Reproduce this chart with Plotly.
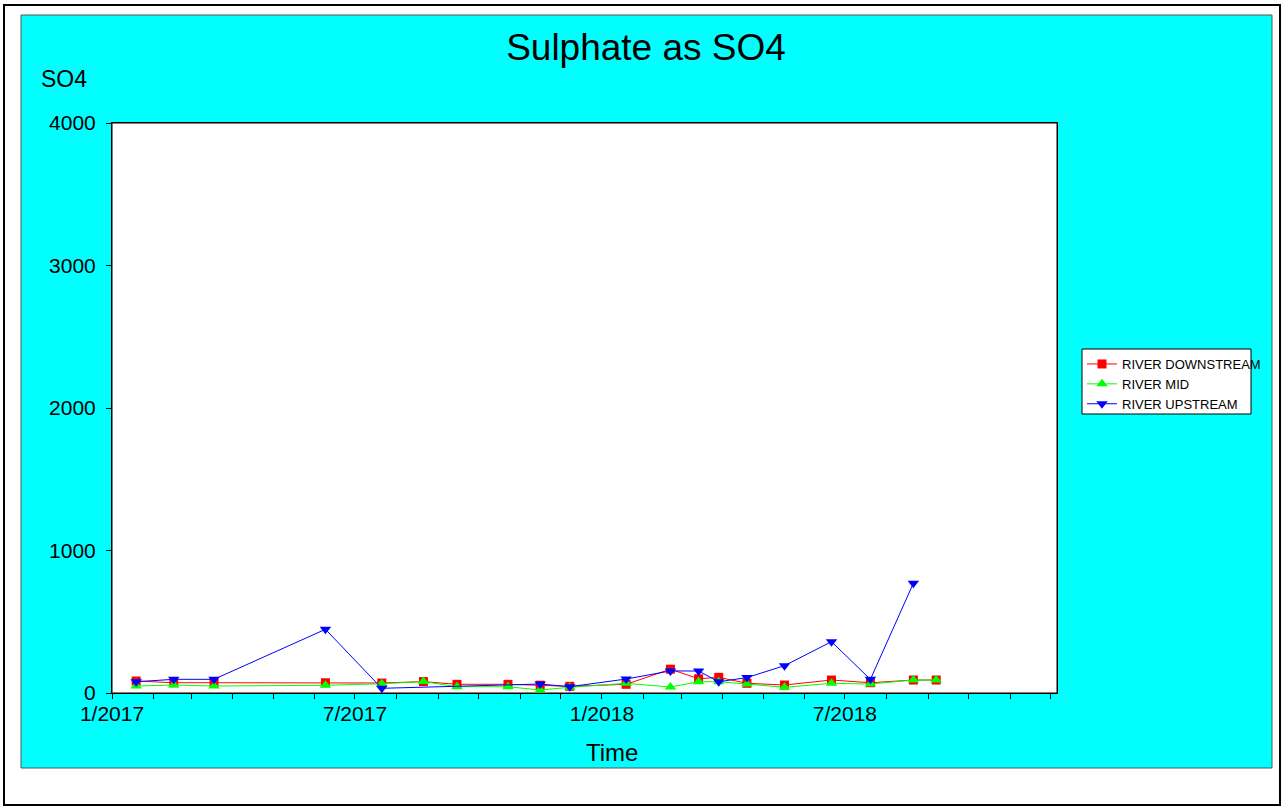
import plotly.graph_objects as go

dates_down = ["2017-01-19", "2017-02-16", "2017-03-18", "2017-06-09", "2017-07-21", "2017-08-21",
              "2017-09-15", "2017-10-23", "2017-11-16", "2017-12-08", "2018-01-19", "2018-02-21",
              "2018-03-14", "2018-03-29", "2018-04-19", "2018-05-17", "2018-06-21", "2018-07-20",
              "2018-08-21", "2018-09-07"]
downstream = [84, 72, 72, 72, 70, 80, 61, 61, 55, 47, 61, 167, 100, 110, 68, 56, 91, 72, 91, 91]

dates_mid = dates_down
mid = [49, 56, 49, 54, 65, 80, 44, 44, 21, 40, 68, 42, 79, 79, 63, 40, 68, 63, 91, 91]

dates_up = ["2017-01-19", "2017-02-16", "2017-03-18", "2017-06-09", "2017-07-21", "2017-11-16",
            "2017-12-08", "2018-01-19", "2018-02-21", "2018-03-14", "2018-03-29", "2018-04-19",
            "2018-05-17", "2018-06-21", "2018-07-20", "2018-08-21"]
upstream = [79, 96, 96, 447, 33, 63, 44, 98, 155, 154, 79, 108, 192, 360, 96, 770]

y_ticks = [0, 1000, 2000, 3000, 4000]

fig = go.Figure()
fig.add_trace(go.Scatter(x=dates_down, y=downstream, name="RIVER DOWNSTREAM", mode="lines+markers",
                         line=dict(color="#FF0000", width=1),
                         marker=dict(symbol="square", size=9, color="#FF0000")))
fig.add_trace(go.Scatter(x=dates_mid, y=mid, name="RIVER MID", mode="lines+markers",
                         line=dict(color="#00FF00", width=1),
                         marker=dict(symbol="triangle-up", size=10, color="#00FF00")))
fig.add_trace(go.Scatter(x=dates_up, y=upstream, name="RIVER UPSTREAM", mode="lines+markers",
                         line=dict(color="#0000FF", width=1),
                         marker=dict(symbol="triangle-down", size=10, color="#0000FF")))

W, H = 1284, 808
L, R, T, B = 112, 1057, 123, 693
pw, ph = R - L, B - T

def px(x):
    return (x - L) / pw

def py(y):
    return (B - y) / ph

shapes = [
    dict(type="rect", xref="paper", yref="paper", x0=px(4), x1=px(1280), y0=py(805), y1=py(5),
         line=dict(color="black", width=2), fillcolor="white", layer="below"),
    dict(type="rect", xref="paper", yref="paper", x0=px(21), x1=px(1272), y0=py(768), y1=py(15),
         line=dict(color="#555555", width=1), fillcolor="#00FFFF", layer="below"),
    dict(type="rect", xref="paper", yref="paper", x0=0, x1=1, y0=0, y1=1,
         line=dict(color="black", width=1), fillcolor="white", layer="below"),
    dict(type="rect", xref="paper", yref="paper", x0=px(1082), x1=px(1251), y0=py(414), y1=py(349),
         line=dict(color="black", width=1), fillcolor="white", layer="below"),
]

fig.update_layout(
    width=W, height=H,
    margin=dict(l=L, r=W - R, t=T, b=H - B),
    paper_bgcolor="white", plot_bgcolor="white",
    font=dict(family="Liberation Sans, Arial, sans-serif", color="black"),
    title=dict(text="Sulphate as SO4", x=646 / W, y=1 - 47 / H,
               xanchor="center", yanchor="middle",
               xref="container", yref="container", font=dict(size=37, color="black")),
    shapes=shapes,
    showlegend=True,
    legend=dict(x=px(1082), y=py(349), xanchor="left", yanchor="top",
                bgcolor="rgba(0,0,0,0)", borderwidth=0, font=dict(size=13, color="black"),
                itemwidth=30, tracegroupgap=0),
    annotations=[
        dict(text="SO4", xref="paper", yref="paper", x=px(39), y=py(79), xanchor="left",
             yanchor="middle", showarrow=False, font=dict(size=23, color="black")),
        dict(text="Time", xref="paper", yref="paper", x=px(612), y=py(753), xanchor="center",
             yanchor="middle", showarrow=False, font=dict(size=24, color="black")),
    ],
)

fig.update_xaxes(
    type="date", range=["2017-01-01", "2018-12-06"],
    dtick="M6", tick0="2017-01-01", tickformat="%-m/%Y",
    ticks="outside", ticklen=5, tickcolor="black", tickwidth=1,
    minor=dict(dtick="M1", ticks="outside", ticklen=5, tickcolor="black", showgrid=False),
    showline=True, linecolor="black", linewidth=1, mirror=True,
    showgrid=False, zeroline=False, ticklabelstandoff=-3,
    tickfont=dict(size=21, color="black"),
)
fig.update_yaxes(
    range=[0, 4000], tickvals=y_ticks, ticktext=[str(v) for v in y_ticks],
    ticks="outside", ticklen=5, tickcolor="black",
    showline=True, linecolor="black", linewidth=1, mirror=True,
    showgrid=False, zeroline=False, ticklabelstandoff=6,
    tickfont=dict(size=21, color="black"),
)

fig.write_html("out.html", config={"displayModeBar": False},
               post_script="document.body.style.margin='0';")
